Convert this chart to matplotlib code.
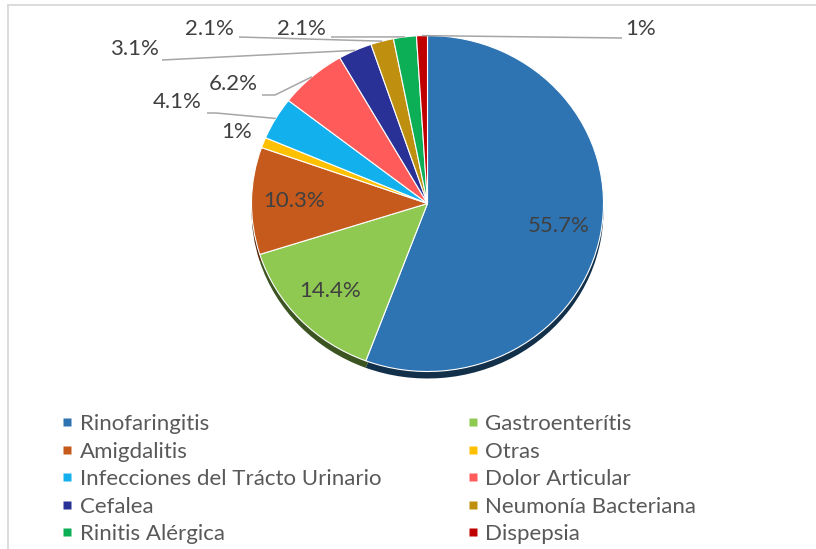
import matplotlib
matplotlib.use("Agg")
import matplotlib.pyplot as plt
import matplotlib.colors as mcolors
from matplotlib.lines import Line2D
import numpy as np

plt.rcParams["font.family"] = ["Lato", "DejaVu Sans"]

categories = ["Rinofaringitis", "Gastroenterítis", "Amigdalitis", "Otras",
              "Infecciones del Trácto Urinario", "Dolor Articular", "Cefalea",
              "Neumonía Bacteriana", "Rinitis Alérgica", "Dispepsia"]
percentages = [55.7, 14.4, 10.3, 1, 4.1, 6.2, 3.1, 2.1, 2.1, 1]
colors = ["#2E73B2", "#8FC952", "#C55A1C", "#FFC000", "#12B0EC", "#FF5B5B",
          "#2A3196", "#BF9010", "#0CAF55", "#C00000"]

W, H = 816, 549
K = 176 / 168          # vertical squeeze of the tilted pie


def P(px, py):
    """Figure pixel position (origin top-left) -> data coordinates."""
    return px, (H - py) * K


fig = plt.figure(figsize=(W / 100, H / 100), dpi=100)
ax = fig.add_axes([0, 0, 1, 1])

cx, cy = P(427.5, 203.5)
R = 176
rim = 7 * K

# darker copy underneath gives the 3-D rim at the bottom
dark = [tuple(np.array(mcolors.to_rgb(c)) * 0.42) for c in colors]
ax.pie(percentages, colors=dark, startangle=90, counterclock=False,
       center=(cx, cy - rim), radius=R, wedgeprops=dict(linewidth=0))
wedges, _ = ax.pie(percentages, colors=colors, startangle=90, counterclock=False,
                   center=(cx, cy), radius=R,
                   wedgeprops=dict(edgecolor="white", linewidth=0.8))

ax.set_aspect("auto")
ax.set_xlim(0, W)
ax.set_ylim(0, H * K)
ax.axis("off")

label_color = "#404040"
fs = 16


def mid_angle(w):
    return np.deg2rad((w.theta1 + w.theta2) / 2)


# labels inside the large slices
for i in (0, 1, 2):
    a = mid_angle(wedges[i])
    f = 0.76
    ax.text(cx + f * R * np.cos(a), cy + f * R * np.sin(a), f"{percentages[i]:g}%",
            ha="center", va="center", fontsize=fs, color=label_color)

# labels outside with leader lines: (index, text pos, leader knee points)
outside = [
    (3, (237, 132), []),
    (4, (177, 102), [(207, 113), (216, 113)]),
    (5, (233, 84), [(262, 95), (275, 95)]),
    (6, (134, 49), [(162, 60)]),
    (7, (209, 29), [(239, 37)]),
    (8, (301, 29), [(331, 37)]),
    (9, (641, 29), [(622, 38)]),
]
for i, tpos, knees in outside:
    ax.text(*P(*tpos), f"{percentages[i]:g}%", ha="center", va="center",
            fontsize=fs, color=label_color)
    if knees:
        a = mid_angle(wedges[i])
        ex, ey = cx + R * np.cos(a), cy + R * np.sin(a)
        xs = [P(*k)[0] for k in knees] + [ex]
        ys = [P(*k)[1] for k in knees] + [ey]
        ax.plot(xs, ys, color="#A6A6A6", lw=1.1, solid_capstyle="butt")

# chart border
ax.plot(*zip(P(8, 5), P(W, 5)), color="#D9D9D9", lw=1.3)
ax.plot(*zip(P(8, 5), P(8, H)), color="#D9D9D9", lw=1.3)

# legend, filled row by row
order = [0, 2, 4, 6, 8, 1, 3, 5, 7, 9]
handles = [Line2D([], [], linestyle="none", marker="s", markersize=5.3,
                  markerfacecolor=colors[i], markeredgecolor="none") for i in order]
fig.legend(handles, [categories[i] for i in order], ncol=2, loc="upper left",
           bbox_to_anchor=(61 / W, 1 - 414 / H), frameon=False, fontsize=fs,
           handlelength=0.55, handletextpad=0.3, columnspacing=3.83,
           labelspacing=0.34, borderpad=0, borderaxespad=0, labelcolor="#595959")

fig.savefig("out.png", dpi=100)
